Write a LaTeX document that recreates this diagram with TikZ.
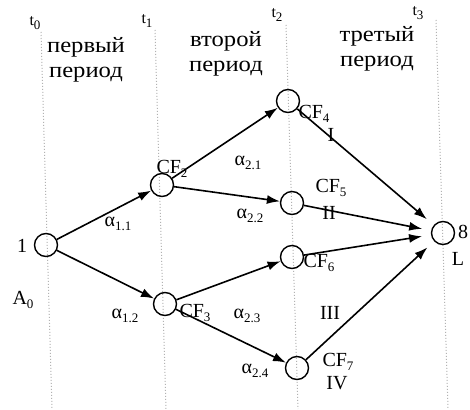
\documentclass[tikz,border=0pt]{standalone}
\usepackage{fontspec}
\setmainfont{Liberation Serif}
\usetikzlibrary{arrows.meta}
\newcommand{\wideit}[1]{\scalebox{1.12}[1]{#1}}
\newcommand{\sbs}[1]{\raisebox{-0.22em}{\fontsize{13}{14}\selectfont #1}}
\begin{document}
\begin{tikzpicture}[x=1pt,y=-1pt,
  state/.style={circle,draw,line width=1.4pt,minimum size=23pt,inner sep=0pt},
  flow/.style={line width=1.6pt,-{Latex[length=13pt,width=9pt]}},
  toL/.style={flow,shorten >=9pt},
  gridline/.style={gray!60,dotted,line width=1pt},
  lbl/.style={font=\fontsize{20}{22}\selectfont,inner sep=0pt},
  per/.style={font=\fontsize{22}{25}\selectfont,align=center,inner sep=0pt},
  tl/.style={font=\fontsize{16}{18}\selectfont,inner sep=0pt},
  al/.style={font=\fontsize{20}{22}\selectfont,inner sep=0pt}]
\useasboundingbox (0,0) rectangle (470,409);
\fill[white] (0,0) rectangle (470,409);

% time grid
\coordinate (g0a) at (41,32);  \coordinate (g0b) at (52,409);
\coordinate (g1a) at (155,30); \coordinate (g1b) at (166,409);
\coordinate (g2a) at (286,25); \coordinate (g2b) at (298,409);
\coordinate (g3a) at (436,20); \coordinate (g3b) at (448,409);
\draw[gridline] (g0a) -- (g0b);
\draw[gridline] (g1a) -- (g1b);
\draw[gridline] (g2a) -- (g2b);
\draw[gridline] (g3a) -- (g3b);

\node[tl] (t0) at (35,23) {t\sbs{0}};
\node[tl] (t1) at (147,21) {t\sbs{1}};
\node[tl] (t2) at (277,15) {t\sbs{2}};
\node[tl] (t3) at (418,13) {t\sbs{3}};

\node[per] (p1) at (86,60) {\wideit{первый}\\\wideit{период}};
\node[per] (p2) at (226,54) {\wideit{второй}\\\wideit{период}};
\node[per] (p3) at (377,49) {\wideit{третый}\\\wideit{период}};

% states
\node[state] (A)   at (46,245) {};
\node[state] (CF2) at (162,185) {};
\node[state] (CF3) at (165,304) {};
\node[state] (CF4) at (288,101) {};
\node[state] (CF5) at (292,203) {};
\node[state] (CF6) at (292,257) {};
\node[state] (CF7) at (297,368) {};
\node[state] (L)   at (443,233) {};

% connectors
\draw[flow] (A) -- (CF2);
\draw[flow] (A) -- (CF3);
\draw[flow] (CF2) -- (CF4);
\draw[flow] (CF2) -- (CF5);
\draw[flow] (CF3) -- (CF6);
\draw[flow] (CF3) -- (CF7);
\draw[toL] (CF4) -- (L);
\draw[toL] (CF5) -- (L);
\draw[toL] (CF6) -- (L);
\draw[toL] (CF7) -- (L);

% labels
\node[lbl] (l1)  at (22,246) {1};
\node[lbl] (lA0) at (23,300) {A\sbs{0}};
\node[lbl] (l2)  at (172,169) {CF\sbs{2}};
\node[lbl] (l3)  at (195,313) {CF\sbs{3}};
\node[lbl] (l4)  at (314,114) {CF\sbs{4}};
\node[lbl] (lI)  at (331,135) {I};
\node[lbl] (lII) at (329,213) {II};
\node[lbl] (l5)  at (331,188) {CF\sbs{5}};
\node[lbl] (l6)  at (319,263) {CF\sbs{6}};
\node[lbl] (lIII) at (330,313) {III};
\node[lbl] (l7)  at (338,362) {CF\sbs{7}};
\node[lbl] (lIV) at (337,383) {IV};
\node[lbl] (l8)  at (463,232) {8};
\node[lbl] (lL)  at (458,259) {L};

\node[al] (a11) at (118,224) {α\sbs{1.1}};
\node[al] (a12) at (125,316) {α\sbs{1.2}};
\node[al] (a21) at (248,163) {α\sbs{2.1}};
\node[al] (a22) at (250,216) {α\sbs{2.2}};
\node[al] (a23) at (247,316) {α\sbs{2.3}};
\node[al] (a24) at (255,371) {α\sbs{2.4}};
\end{tikzpicture}
\end{document}
